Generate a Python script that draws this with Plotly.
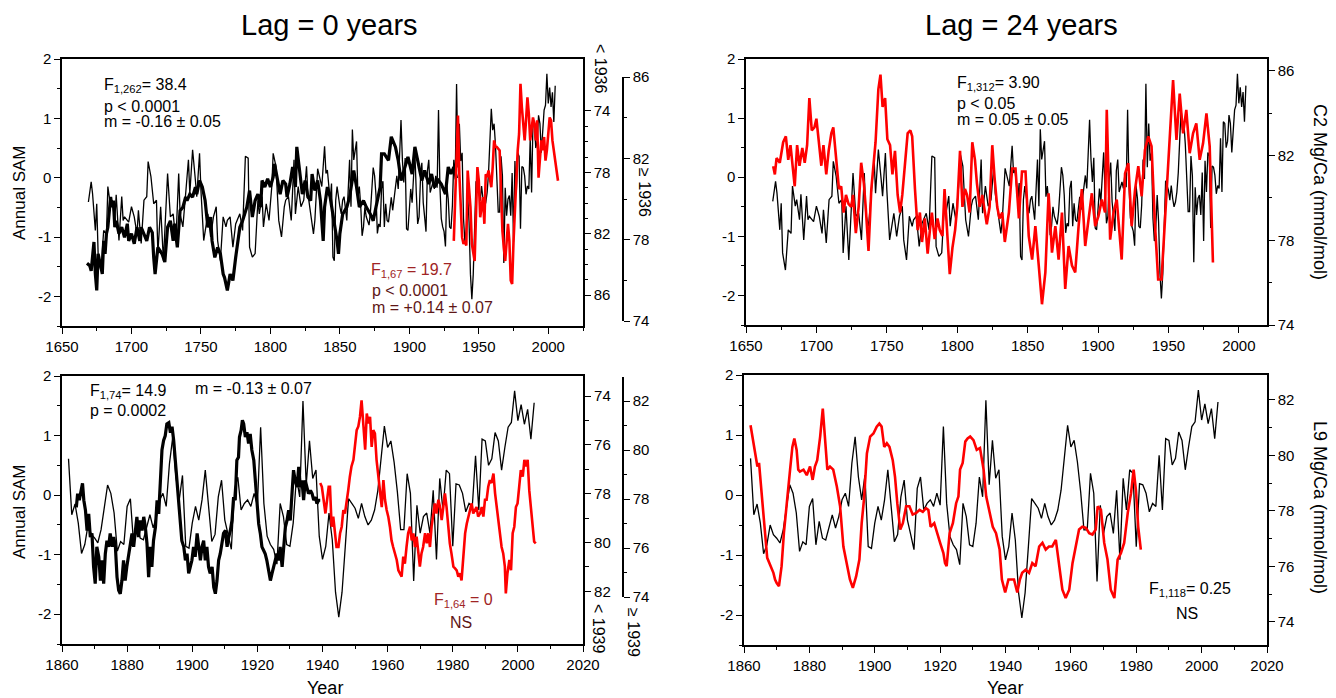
import plotly.graph_objects as go

W, H = 1336, 698
FONT = "Liberation Sans, Arial, Helvetica, sans-serif"

# ------------------------------------------------------------------ data
# Annual SAM reconstruction (1669-1860, 1862-2005 annual)
sam_early = [(1669,-0.41),(1671,-0.07),(1672,-0.27),(1674,-0.89),(1675,-0.44),(1676,-1.28),(1678,-1.57),(1680,-0.89),(1682,-0.95),(1683,-0.15),(1685,-0.49),(1686,-0.38),(1688,-0.72),(1689,-0.29),(1691,-1.06),(1693,-0.32),(1694,-0.72),(1695,-0.66),(1698,-0.75),(1700,-0.49),(1702,-0.66),(1704,-0.95),(1705,-0.55),(1707,-1.11),(1709,-0.38),(1711,-0.32),(1712,0.27),(1714,0.02),(1716,-0.44),(1718,-0.38),(1719,-1.28),(1721,-0.49),(1723,-1.40),(1725,-0.49),(1726,0.07),(1728,-0.66),(1730,-0.61),(1732,-1.06),(1734,0.07),(1735,-0.61),(1737,-0.83),(1739,-0.27),(1741,0.30),(1742,-0.27),(1744,0.47),(1746,-0.04),(1747,-0.32),(1749,0.41),(1750,-0.21),(1752,-1.06),(1754,-0.78),(1755,-0.61),(1757,-1.00),(1759,-0.66),(1761,-0.49),(1762,-1.06),(1764,-1.40),(1766,-0.66),(1768,-0.83),(1769,-0.72),(1771,-0.66),(1773,-1.17),(1775,-0.78),(1777,-0.66),(1778,-0.61),(1780,-0.89),(1782,0.36),(1784,0.33),(1785,-1.17),(1787,-1.34),(1789,-1.28),(1791,-0.38),(1792,-0.61),(1794,-0.32),(1795,-0.83),(1797,-0.44),(1799,-0.72),(1801,-0.15),(1802,0.41),(1804,0.19),(1806,-0.72),(1808,-1.00),(1810,-0.49),(1811,-0.38),(1813,-0.32),(1815,-0.72),(1817,0.30),(1818,-0.61),(1820,-0.15),(1822,-0.49),(1824,-0.38),(1826,0.19),(1827,-0.27),(1829,-0.61),(1831,-0.95),(1832,-0.72),(1834,0.15),(1837,-0.15),(1839,0.53),(1840,0.07),(1841,0.13),(1843,-0.38),(1844,-0.10),(1845,-1.34),(1846,-1.40),(1847,-0.38),(1848,-0.15),(1850,-0.49),(1851,-0.61),(1852,-0.38),(1853,-0.32),(1855,-0.72),(1857,0.30),(1858,-0.49),(1859,0.81),(1860,0.30)]

sam_late_years = list(range(1862, 2006))
sam_late = [0.61,-0.33,-0.15,-0.47,-0.98,-0.83,-0.50,-0.66,-0.72,-0.80,
            -0.58,-0.19,0.17,0.03,-0.30,-0.94,-0.78,-0.83,-0.19,-0.06,
            -0.83,-0.44,-0.72,-0.75,-0.53,-0.33,-0.55,-0.36,-0.08,0.03,
            -0.19,0.53,0.97,0.30,-0.08,0.33,-0.86,-0.89,-0.47,-0.19,
            -0.42,-0.08,0.42,-0.25,-0.78,-0.66,-0.03,0.25,-0.42,-0.66,
            -0.91,0.11,0.30,-0.25,-0.14,-0.08,-0.19,0.03,-0.17,1.14,
            -0.14,-0.69,-0.83,-0.91,-1.16,-0.14,-0.36,-0.83,-0.86,-0.47,
            0.30,-0.03,1.58,0.17,0.91,0.28,0.42,-0.69,-1.08,-0.86,
            -0.30,-0.75,-1.63,-2.05,-1.63,-0.86,-0.06,-0.14,-0.22,-0.39,
            -0.14,-0.36,-0.50,-0.42,-0.25,0.08,0.58,1.16,0.80,0.91,
            0.55,0.05,-0.58,-0.58,0.36,0.03,-1.44,-0.17,-0.64,-0.36,
            -0.30,-0.64,0.08,-1.08,0.28,-0.25,0.42,0.36,-0.86,0.19,
            0.17,0.03,-0.28,-0.14,-0.19,0.66,-0.25,0.94,0.91,0.50,
            0.61,1.05,0.91,0.42,0.80,1.14,1.22,1.75,1.25,1.52,
            1.19,1.44,0.94,1.55]

# Coral C2 Mg/Ca (mmol/mol), before 1936
c2_pre = [(1668,83.93),(1670,84.09),(1671,84.43),(1673,82.54),(1674,84.63),(1675,85.70),(1676,83.31),(1677,83.78),(1679,84.63),(1680,82.47),(1681,83.31),(1682,82.00),(1683,81.58),(1685,79.61),(1686,80.27),(1687,79.84),(1688,81.58),(1689,81.16),(1691,82.00),(1693,81.58),(1695,82.24),(1697,81.35),(1698,82.47),(1700,82.00),(1702,82.66),(1704,81.58),(1706,82.47),(1707,81.58),(1709,82.00),(1711,82.47),(1713,81.58),(1715,81.93),(1716,83.55),(1717,84.63),(1719,82.89),(1721,83.12),(1722,83.31),(1724,83.85),(1726,81.58),(1728,81.16),(1730,82.47),(1731,81.35),(1733,82.89),(1735,80.50),(1737,80.27),(1739,79.61),(1740,79.84),(1742,79.42),(1744,79.61),(1746,78.96),(1747,79.42),(1749,78.53),(1751,78.96),(1753,79.84),(1755,81.58),(1757,80.92),(1758,82.47),(1760,83.55),(1762,82.89),(1764,83.31),(1766,84.63),(1767,84.86),(1769,85.70),(1771,84.63),(1773,85.05),(1775,83.55),(1776,82.89),(1778,81.58),(1780,81.16),(1782,80.50),(1783,80.27),(1785,79.19),(1787,80.92),(1789,79.84),(1791,79.42),(1793,80.27),(1794,78.53),(1796,78.96),(1798,78.42),(1800,78.96),(1802,78.30),(1803,77.45),(1805,78.53),(1807,79.42),(1809,78.53),(1811,78.77),(1812,79.61),(1814,78.77),(1816,77.65),(1818,78.96),(1819,76.34),(1821,78.11),(1823,79.42),(1825,78.53),(1827,79.61),(1829,79.84),(1830,78.11),(1832,79.19),(1834,78.53),(1836,79.84),(1838,82.47),(1839,80.27),(1841,78.96),(1843,79.61),(1845,80.73),(1848,82.47),(1849,83.31),(1850,82.00),(1852,80.73),(1855,80.27),(1857,79.61),(1860,77.88),(1862,78.96),(1864,80.27),(1867,79.84),(1869,80.27),(1872,80.73),(1874,81.16),(1876,80.27),(1879,78.96),(1880,76.80),(1882,76.80),(1885,77.22),(1887,75.68),(1890,76.34),(1892,77.22),(1894,78.53),(1897,77.65),(1899,76.99),(1902,78.11),(1904,76.34),(1906,77.22),(1909,78.53),(1911,77.88),(1914,78.77),(1916,78.11),(1918,78.96),(1921,78.53),(1923,78.77),(1926,79.42),(1928,77.65),(1930,78.11),(1932,77.65),(1934,78.38)]

# Coral C2 Mg/Ca, 1936 onwards
c2_post = [(1932,77.94),(1934,81.57),(1935,84.10),(1936,81.22),(1938,78.11),(1939,77.79),(1940,77.94),(1941,77.71),(1942,81.40),(1944,79.60),(1945,77.79),(1947,76.95),(1948,79.10),(1949,81.57),(1950,80.90),(1951,79.10),(1953,80.09),(1954,78.78),(1955,81.22),(1956,81.08),(1957,81.40),(1959,80.58),(1960,81.57),(1961,82.88),(1962,82.56),(1963,82.56),(1965,82.39),(1966,80.58),(1967,78.43),(1968,77.62),(1969,76.95),(1971,78.78),(1972,77.94),(1973,75.99),(1974,75.82),(1975,77.94),(1977,81.08),(1978,82.39),(1979,83.20),(1980,85.67),(1981,84.51),(1983,82.88),(1984,83.87),(1985,85.00),(1986,84.19),(1987,82.88),(1989,84.01),(1990,83.69),(1991,82.88),(1992,83.87),(1993,81.05),(1995,82.88),(1996,82.39),(1997,83.05),(1998,81.89),(1999,82.39),(2001,84.01),(2002,83.87),(2003,82.88),(2004,82.21),(2005,81.89),(2007,80.90)]

# Coral C2 Mg/Ca shifted by the 24-year lag
c2_lag = [(1669.3,81.50),(1670.5,81.11),(1671.7,81.88),(1674.0,81.66),(1676.4,82.63),(1678.3,82.91),(1680.0,81.80),(1681.6,82.49),(1683.5,81.25),(1684.6,80.55),(1686.3,82.49),(1688.0,81.52),(1690.0,82.36),(1691.7,81.66),(1693.4,82.49),(1695.0,84.71),(1696.7,83.19),(1698.6,83.33),(1700.0,83.74),(1701.9,82.36),(1703.5,81.52),(1705.0,82.49),(1707.0,81.11),(1708.7,82.22),(1710.6,83.05),(1712.0,83.33),(1714.0,81.66),(1716.0,80.42),(1717.6,80.55),(1719.3,79.31),(1721.0,80.14),(1722.8,79.72),(1724.7,79.58),(1726.0,80.14),(1728.0,78.34),(1730.0,79.58),(1731.8,81.66),(1733.7,80.69),(1735.0,79.58),(1737.0,77.50),(1739.0,80.42),(1740.7,81.80),(1742.0,82.63),(1744.0,85.13),(1745.5,85.82),(1747.0,84.30),(1748.8,84.71),(1750.4,82.77),(1752.3,82.49),(1754.0,81.11),(1755.8,82.22),(1757.7,80.14),(1759.4,79.31),(1761.0,80.14),(1763.0,81.52),(1764.8,83.05),(1766.7,83.19),(1768.0,82.91),(1770.0,80.42),(1771.9,78.48),(1773.5,79.31),(1775.0,77.92),(1777.0,79.03),(1779.0,77.37),(1780.6,78.48),(1782.0,79.31),(1784.0,78.06),(1786.0,79.03),(1787.6,78.48),(1789.5,78.20),(1791.0,80.42),(1793.0,78.20),(1794.7,76.40),(1796.6,77.64),(1798.5,78.48),(1800.0,79.58),(1802.0,82.22),(1803.7,79.58),(1805.5,80.42),(1807.0,80.14),(1808.8,79.31),(1810.7,82.63),(1812.6,81.80),(1814.0,80.69),(1816.0,79.58),(1817.8,80.14),(1819.7,79.31),(1821.0,78.75),(1823.0,79.58),(1824.9,82.49),(1826.5,80.97),(1828.4,79.58),(1830.0,79.03),(1832.0,79.31),(1833.8,77.92),(1836.7,79.31),(1839.0,81.39),(1841.4,81.39),(1843.8,79.03),(1846.0,81.25),(1848.5,81.25),(1850.8,78.20),(1853.2,77.09),(1855.5,78.67),(1857.9,76.81),(1860.2,74.98),(1862.6,76.48),(1864.9,80.22),(1867.3,77.42),(1869.7,78.67),(1872.0,77.09),(1874.4,79.31),(1876.7,75.70),(1879.1,77.73),(1881.5,76.81),(1883.8,76.48),(1886.2,78.67),(1888.5,80.42),(1890.9,77.73),(1893.2,78.97),(1895.6,80.22),(1898.0,78.67),(1900.3,79.14),(1902.7,79.92),(1905.0,79.31),(1906.2,84.16),(1908.6,78.03),(1911.0,79.31),(1913.3,79.92),(1916.8,77.09),(1919.2,81.16),(1921.5,81.64),(1923.9,78.67),(1926.3,80.39),(1928.6,81.50),(1931.0,80.08),(1933.3,82.27),(1935.7,82.91),(1938.0,82.44),(1940.4,78.81),(1942.7,76.15),(1945.1,76.15),(1947.5,78.97),(1949.9,81.50),(1951.0,82.74),(1953.3,85.57),(1955.7,82.74),(1958.0,84.93),(1960.4,83.05),(1962.7,84.16),(1965.1,82.11),(1967.5,83.05),(1969.8,83.52),(1972.2,81.80),(1974.6,82.58),(1977.0,83.99),(1979.3,82.44),(1981.6,76.95)]

# Coral L9 Mg/Ca, before 1939
l9_pre = [(1864.4,78.56),(1864.8,78.00),(1865.3,78.27),(1865.8,77.92),(1866.3,77.58),(1866.7,78.27),(1867.2,78.68),(1867.7,79.51),(1868.2,78.83),(1868.7,79.78),(1869.2,79.63),(1869.7,81.00),(1870.2,81.69),(1870.7,80.18),(1871.3,80.59),(1871.8,81.56),(1872.3,80.73),(1872.8,81.69),(1873.3,80.46),(1873.8,79.93),(1874.3,80.18),(1874.8,79.63),(1875.4,80.18),(1875.9,79.78),(1876.4,80.18),(1876.9,81.42),(1877.4,81.96),(1877.9,82.10),(1878.4,81.56),(1878.9,80.73),(1879.4,81.56),(1879.9,81.00),(1880.5,80.46),(1881.0,80.05),(1881.5,79.63),(1882.0,80.18),(1882.5,79.37),(1883.0,78.95),(1883.5,79.78),(1884.0,79.10),(1884.6,79.51),(1885.1,78.95),(1885.6,79.37),(1886.1,80.05),(1886.6,81.42),(1887.1,80.18),(1887.6,81.00),(1888.1,79.93),(1888.7,79.37),(1889.2,78.27),(1889.7,78.83),(1890.2,77.46),(1890.7,76.21),(1891.2,75.82),(1891.7,75.63),(1892.2,75.14),(1892.8,75.09),(1893.3,75.50),(1893.8,75.26),(1894.3,75.82),(1894.8,76.63),(1895.3,77.46),(1895.8,78.27),(1896.3,79.10),(1896.8,79.93),(1897.4,80.18),(1897.9,80.73),(1898.4,80.46),(1898.9,81.27),(1899.4,81.00),(1899.9,80.73),(1900.4,80.18),(1900.9,80.59),(1901.5,79.63),(1902.0,80.18),(1902.5,80.73),(1903.0,80.18),(1903.5,79.93),(1904.0,80.73),(1904.5,80.18),(1905.0,81.00),(1905.5,81.27),(1906.1,81.00),(1906.6,81.83),(1907.1,82.10),(1907.6,81.56),(1908.1,80.73),(1908.6,80.46),(1909.1,80.05),(1909.6,79.63),(1910.2,79.51),(1910.7,80.18),(1911.2,79.78),(1911.7,79.51),(1912.2,79.10),(1912.7,78.14),(1913.2,78.27),(1913.7,76.63),(1914.2,76.51),(1914.5,75.68),(1915.0,75.41),(1915.4,74.99),(1915.8,75.14),(1916.3,75.68),(1916.8,75.48),(1917.3,75.95),(1917.8,75.55),(1918.3,76.21),(1918.9,76.63),(1919.4,77.58),(1919.9,78.27),(1920.4,79.24),(1920.9,79.63),(1921.4,80.18),(1921.9,80.32),(1922.4,80.46),(1922.9,80.73),(1923.5,81.15),(1924.0,81.56),(1924.5,81.27),(1925.0,81.00),(1925.5,80.73),(1926.0,80.46),(1926.5,80.73),(1927.0,80.18),(1927.6,81.00),(1928.1,80.18),(1928.6,79.37),(1929.1,79.10),(1929.6,78.68),(1930.1,79.10),(1930.6,78.00),(1931.1,77.04),(1931.6,77.46),(1932.2,77.73),(1932.7,76.90),(1933.2,77.73),(1933.7,77.46),(1934.2,78.27),(1934.7,77.46),(1935.2,77.73),(1935.7,78.00),(1936.3,77.87),(1936.8,78.00),(1937.3,78.27),(1937.8,78.14),(1938.3,78.41),(1938.8,78.27),(1939.3,78.27)]

# Coral L9 Mg/Ca, 1939 onwards
l9_post = [(1939.3,78.65),(1939.8,78.50),(1940.9,77.41),(1941.9,78.50),(1942.3,78.50),(1942.8,76.87),(1943.3,77.28),(1943.8,76.72),(1944.3,76.04),(1944.9,76.04),(1945.4,76.60),(1945.9,76.87),(1946.4,77.55),(1946.9,77.41),(1947.4,77.82),(1947.9,78.35),(1948.4,78.91),(1948.9,79.33),(1949.5,79.60),(1950.0,80.13),(1950.5,80.81),(1951.0,80.96),(1951.5,81.35),(1952.0,82.03),(1952.5,80.96),(1953.1,80.01),(1953.6,81.49),(1954.1,81.08),(1954.6,81.35),(1955.1,80.13),(1955.6,80.81),(1956.1,80.67),(1956.6,79.60),(1957.1,79.04),(1957.7,78.23),(1958.2,77.67),(1958.7,78.77),(1959.2,77.97),(1959.7,77.55),(1960.2,77.28),(1960.7,76.87),(1961.2,76.31),(1961.7,76.04),(1962.3,75.78),(1962.8,75.51),(1963.3,75.09),(1963.8,74.97),(1964.3,74.83),(1964.8,75.65),(1965.3,75.36),(1965.8,76.04),(1966.3,76.60),(1966.9,76.87),(1967.4,76.31),(1967.9,76.60),(1968.4,76.04),(1968.9,76.46),(1969.4,75.78),(1969.9,75.24),(1970.4,75.78),(1970.9,76.04),(1971.5,76.60),(1972.0,76.19),(1972.5,76.60),(1973.0,76.04),(1973.5,76.87),(1974.0,77.28),(1974.5,77.82),(1975.0,77.41),(1975.6,77.97),(1976.1,77.67),(1976.6,77.14),(1977.1,77.67),(1977.6,78.23),(1978.1,77.67),(1978.6,76.87),(1979.1,76.19),(1979.6,75.78),(1980.2,75.24),(1980.7,75.17),(1981.2,75.09),(1981.7,74.83),(1982.2,74.97),(1982.7,74.68),(1983.2,75.51),(1983.8,76.60),(1984.3,76.99),(1984.8,77.28),(1985.3,77.55),(1985.8,77.82),(1986.3,77.41),(1986.8,77.55),(1987.3,77.67),(1987.8,77.28),(1988.4,77.41),(1988.9,77.67),(1989.4,77.28),(1989.9,77.97),(1990.4,77.97),(1990.9,78.50),(1991.4,78.77),(1991.9,78.65),(1992.5,79.04),(1993.0,78.23),(1993.5,77.67),(1994.0,77.28),(1994.5,76.60),(1995.0,76.04),(1995.5,75.78),(1996.0,75.24),(1996.3,74.15),(1996.8,74.97),(1997.4,75.51),(1997.9,75.09),(1998.4,76.60),(1998.9,76.87),(1999.4,77.67),(1999.9,77.82),(2000.4,78.50),(2000.9,79.18),(2001.5,78.91),(2002.0,79.60),(2002.5,79.33),(2003.0,79.60),(2003.5,78.35),(2004.0,77.55),(2004.5,76.99),(2005.0,76.26),(2005.5,76.19)]

# Coral L9 Mg/Ca shifted by the 24-year lag
l9_lag = [(1862.0,81.09),(1863.1,80.31),(1864.1,79.60),(1864.6,79.73),(1865.4,78.52),(1866.1,77.67),(1867.1,76.31),(1868.2,76.01),(1869.0,75.77),(1869.5,75.53),(1870.0,75.40),(1870.7,75.29),(1871.5,76.01),(1872.2,77.20),(1873.1,78.41),(1874.1,79.49),(1874.8,80.31),(1875.4,80.61),(1876.1,80.20),(1876.6,79.49),(1877.1,79.42),(1878.2,79.49),(1879.2,79.29),(1880.2,79.60),(1881.0,79.12),(1881.7,79.60),(1882.4,79.83),(1883.3,80.68),(1884.1,81.69),(1884.8,80.55),(1885.5,79.49),(1886.3,79.60),(1887.3,79.49),(1888.4,78.88),(1889.4,78.17),(1890.4,76.72),(1891.4,76.12),(1892.4,75.53),(1893.3,75.23),(1894.3,75.64),(1895.3,76.25),(1896.0,77.56),(1896.7,78.41),(1897.6,80.07),(1898.6,80.68),(1899.6,80.79),(1900.6,81.04),(1901.4,81.15),(1902.1,81.04),(1902.9,80.31),(1903.7,80.44),(1904.5,80.31),(1905.5,79.83),(1906.2,79.23),(1906.9,78.28),(1907.8,77.33),(1908.6,77.56),(1909.6,78.17),(1910.6,78.17),(1911.6,77.87),(1912.7,77.93),(1913.7,78.04),(1914.7,77.97),(1915.7,78.10),(1916.4,78.04),(1917.1,77.43),(1918.2,77.56),(1919.0,77.20),(1920.0,76.85),(1921.0,76.48),(1921.5,76.12),(1922.0,76.01),(1922.9,77.20),(1923.9,77.56),(1924.9,78.28),(1925.6,78.52),(1926.1,79.49),(1926.9,79.73),(1927.7,80.50),(1928.4,80.61),(1929.2,80.68),(1930.2,80.55),(1931.2,80.20),(1932.2,80.27),(1933.3,79.49),(1934.1,78.52),(1935.1,77.93),(1936.1,77.43),(1937.1,77.20),(1938.2,76.61),(1938.9,75.53),(1939.9,75.06),(1940.9,75.53),(1942.6,75.53),(1943.6,75.06),(1944.4,75.53),(1945.1,75.77),(1946.2,75.88),(1947.2,75.77),(1948.2,76.12),(1949.2,76.01),(1950.3,76.72),(1951.3,76.85),(1952.3,76.61),(1953.3,76.72),(1954.3,76.72),(1955.4,76.96),(1956.4,76.01),(1957.4,75.16),(1958.4,74.86),(1959.5,75.16),(1960.5,76.12),(1961.5,76.72),(1962.5,77.33),(1963.5,77.43),(1964.6,77.39),(1965.6,77.20),(1966.6,77.15),(1967.6,77.33),(1968.2,78.17),(1969.2,78.04),(1970.2,76.85),(1971.2,76.25),(1972.2,75.16),(1973.3,74.86),(1974.3,76.25),(1975.3,76.48),(1976.3,76.85),(1977.4,77.93),(1978.4,78.64),(1979.2,79.49),(1979.9,78.75),(1980.6,77.43),(1981.4,76.61)]

sam_ticks = [-2, -1, 0, 1, 2]
sam_ticktext = ["-2", "-1", "0", "1", "2"]

# ------------------------------------------------------------------ helpers
def xs(pairs):
    return [p[0] for p in pairs]

def ys(pairs):
    return [p[1] for p in pairs]

def fx(p):
    return p / W

def fy(p):
    return 1 - p / H

sam_top_x = xs(sam_early) + sam_late_years
sam_top_y = ys(sam_early) + sam_late

THIN = dict(color="black", width=1.3)
THICK = dict(color="black", width=3.2)
RED = dict(color="#ff0000", width=2.6)

fig = go.Figure()

# Top-left: lag 0, coral C2
fig.add_trace(go.Scatter(x=sam_top_x, y=sam_top_y, xaxis="x", yaxis="y", mode="lines", line=THIN))
fig.add_trace(go.Scatter(x=xs(c2_pre), y=ys(c2_pre), xaxis="x", yaxis="y2", mode="lines", line=THICK))
fig.add_trace(go.Scatter(x=xs(c2_post), y=ys(c2_post), xaxis="x", yaxis="y3", mode="lines", line=RED))
# Top-right: lag 24, coral C2
fig.add_trace(go.Scatter(x=sam_top_x, y=sam_top_y, xaxis="x2", yaxis="y4", mode="lines", line=THIN))
fig.add_trace(go.Scatter(x=xs(c2_lag), y=ys(c2_lag), xaxis="x2", yaxis="y5", mode="lines", line=RED))
# Bottom-left: lag 0, coral L9
fig.add_trace(go.Scatter(x=sam_late_years, y=sam_late, xaxis="x3", yaxis="y6", mode="lines", line=THIN))
fig.add_trace(go.Scatter(x=xs(l9_pre), y=ys(l9_pre), xaxis="x3", yaxis="y7", mode="lines", line=THICK))
fig.add_trace(go.Scatter(x=xs(l9_post), y=ys(l9_post), xaxis="x3", yaxis="y8", mode="lines", line=RED))
# Bottom-right: lag 24, coral L9
fig.add_trace(go.Scatter(x=sam_late_years, y=sam_late, xaxis="x4", yaxis="y9", mode="lines", line=THIN))
fig.add_trace(go.Scatter(x=xs(l9_lag), y=ys(l9_lag), xaxis="x4", yaxis="y10", mode="lines", line=RED))


def axis(**kw):
    d = dict(showline=True, linecolor="black", linewidth=1.5, ticks="outside",
             ticklen=6, tickwidth=1.4, tickcolor="black", showgrid=False,
             zeroline=False, automargin=False,
             tickfont=dict(family=FONT, size=15, color="black"))
    d.update(kw)
    return d


def minor_lin(tick0, dtick):
    return dict(ticks="outside", ticklen=3.5, tickwidth=1.2, tickcolor="black",
                tickmode="linear", tick0=tick0, dtick=dtick, showgrid=False)


def minor_arr(vals):
    return dict(ticks="outside", ticklen=3.5, tickwidth=1.2, tickcolor="black",
                tickmode="array", tickvals=vals, showgrid=False)


LX = [fx(62), fx(583)]
TRX = [fx(746), fx(1267)]
BRX = [fx(744), fx(1267)]

layout = dict(
    width=W, height=H, autosize=False,
    margin=dict(l=0, r=0, t=0, b=0, pad=0, autoexpand=False),
    paper_bgcolor="white", plot_bgcolor="rgba(0,0,0,0)",
    showlegend=False,
    font=dict(family=FONT, color="black"),
    # top-left
    xaxis=axis(domain=LX, anchor="y", range=[1650, 2025], tickmode="linear", tick0=1650, dtick=50,
               mirror=True, minor=minor_lin(1650, 25)),
    yaxis=axis(domain=[fy(326), fy(59)], anchor="x", range=[-2.5, 2], tickmode="array",
               tickvals=sam_ticks, ticktext=sam_ticktext, mirror=True, minor=minor_lin(0, 0.5)),
    yaxis2=axis(overlaying="y", side="right", anchor="x", range=[88.02, 70.61], tickmode="array",
                tickvals=[74, 78, 82, 86], minor=minor_arr([75, 76, 77, 79, 80, 81, 83, 84, 85])),
    yaxis3=axis(domain=[fy(321), fy(77)], anchor="free", position=fx(623), side="right",
                range=[74, 86], tickmode="array", tickvals=[74, 78, 82, 86],
                minor=minor_arr([76, 80, 84])),
    # top-right
    xaxis2=axis(domain=TRX, anchor="y4", range=[1650, 2020], tickmode="linear", tick0=1650, dtick=50,
                mirror=True, minor=minor_lin(1650, 25)),
    yaxis4=axis(domain=[fy(325), fy(59)], anchor="x2", range=[-2.5, 2], tickmode="array",
                tickvals=sam_ticks, ticktext=sam_ticktext, mirror=True, minor=minor_lin(0, 0.5)),
    yaxis5=axis(overlaying="y4", side="right", anchor="x2", range=[74, 86.56], tickmode="array",
                tickvals=[74, 78, 82, 86], minor=minor_arr([76, 80, 84])),
    # bottom-left
    xaxis3=axis(domain=LX, anchor="y6", range=[1860, 2020], tickmode="linear", tick0=1860, dtick=20,
                mirror=True, minor=minor_lin(1860, 10)),
    yaxis6=axis(domain=[fy(644), fy(376)], anchor="x3", range=[-2.5, 2], tickmode="array",
                tickvals=sam_ticks, ticktext=sam_ticktext, mirror=True, minor=minor_lin(0, 0.5)),
    yaxis7=axis(overlaying="y6", side="right", anchor="x3", range=[84.16, 73.18], tickmode="array",
                tickvals=[74, 76, 78, 80, 82], minor=minor_arr([75, 77, 79, 81]), linewidth=2.2),
    yaxis8=axis(domain=[fy(597), fy(377)], anchor="free", position=fx(623), side="right",
                range=[74, 82.98], tickmode="array", tickvals=[74, 76, 78, 80, 82],
                minor=minor_arr([75, 77, 79, 81])),
    # bottom-right
    xaxis4=axis(domain=BRX, anchor="y9", range=[1860, 2020], tickmode="linear", tick0=1860, dtick=20,
                mirror=True, minor=minor_lin(1860, 10)),
    yaxis9=axis(domain=[fy(645), fy(375)], anchor="x4", range=[-2.5, 2], tickmode="array",
                tickvals=sam_ticks, ticktext=sam_ticktext, mirror=True, minor=minor_lin(0, 0.5)),
    yaxis10=axis(overlaying="y9", side="right", anchor="x4", range=[73.17, 82.9], tickmode="array",
                 tickvals=[74, 76, 78, 80, 82], minor=minor_arr([75, 77, 79, 81])),
)
fig.update_layout(**layout)

DARKRED = "#a02424"
MAROON = "#5e1616"


def ann(text, x, y, size=16, color="black", xanchor="left", angle=0):
    fig.add_annotation(text=text, x=fx(x), y=fy(y), xref="paper", yref="paper",
                       xanchor=xanchor, yanchor="middle", showarrow=False,
                       textangle=angle, font=dict(family=FONT, size=size, color=color))

# titles
ann("Lag = 0 years", 329, 25, size=29, xanchor="center")
ann("Lag = 24 years", 1021, 25, size=29, xanchor="center")
# axis titles
ann("Annual SAM", 19, 193, size=17, xanchor="center", angle=-90)
ann("Annual SAM", 19, 512, size=17, xanchor="center", angle=-90)
ann("C2 Mg/Ca (mmol/mol)", 1320, 192, size=18, xanchor="center", angle=90)
ann("L9 Mg/Ca (mmol/mol)", 1320, 507, size=18, xanchor="center", angle=90)
ann("Year", 325, 688, size=18, xanchor="center")
ann("Year", 1005, 688, size=18, xanchor="center")
# epoch labels on the extra axes
ann("< 1936", 601, 68, size=16, xanchor="center", angle=90)
ann("\u2265 1936", 645, 192, size=16, xanchor="center", angle=90)
ann("< 1939", 599, 628, size=16, xanchor="center", angle=90)
ann("\u2265 1939", 634, 632, size=16, xanchor="center", angle=90)
# statistics, top-left
ann("F<sub>1,262</sub>= 38.4", 102, 86)
ann("p < 0.0001", 102, 106)
ann("m = -0.16 \u00b1 0.05", 102, 122)
ann("F<sub>1,67</sub> = 19.7", 369, 270, color=DARKRED)
ann("p < 0.0001", 370, 291, color=MAROON)
ann("m = +0.14 \u00b1 0.07", 370, 307, color=MAROON)
# statistics, top-right
ann("F<sub>1,312</sub>= 3.90", 955, 84)
ann("p < 0.05", 955, 103)
ann("m = 0.05 \u00b1 0.05", 955, 120)
# statistics, bottom-left
ann("F<sub>1,74</sub>= 14.9", 88, 391)
ann("m = -0.13 \u00b1 0.07", 193, 388)
ann("p = 0.0002", 88, 410)
ann("F<sub>1,64</sub> = 0", 432, 600, color=DARKRED)
ann("NS", 461, 622, color=MAROON, xanchor="center")
# statistics, bottom-right
ann("F<sub>1,118</sub>= 0.25", 1147, 589)
ann("NS", 1187, 613, xanchor="center")

fig.write_html("out.html", config={"displayModeBar": False},
               post_script="document.body.style.margin='0px';document.body.style.overflow='hidden';")
